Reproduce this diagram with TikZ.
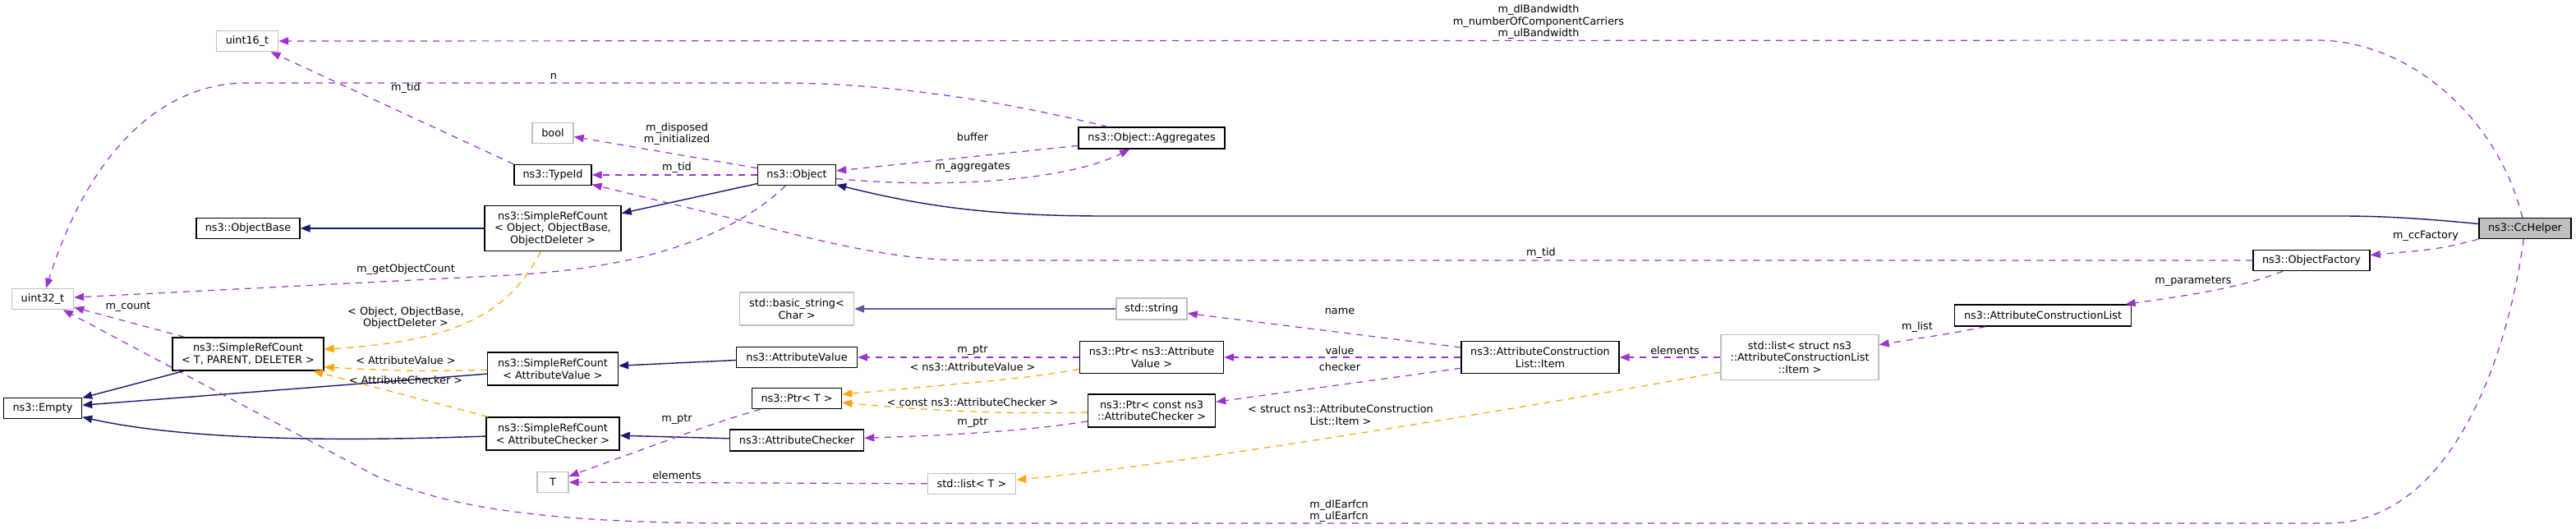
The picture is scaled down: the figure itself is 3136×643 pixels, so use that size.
\documentclass[tikz,border=0pt]{standalone}
\usepackage{fontspec}
\setmainfont{DejaVu Sans}
\usetikzlibrary{arrows.meta,calc}
\definecolor{edgepurple}{HTML}{9A32CD}
\definecolor{navyblue}{HTML}{191970}
\definecolor{tplorange}{HTML}{FFA500}
\definecolor{graybd}{HTML}{BFBFBF}
\definecolor{lightnavy}{HTML}{5B5B9E}
\begin{document}
\begin{tikzpicture}[x=0.5pt,y=-0.5pt,
  every node/.style={font=\fontsize{6.4}{7.25}\selectfont},
  sz/.style 2 args={minimum width=#1*0.5pt, minimum height=#2*0.5pt},
  cls/.style={draw=black, fill=white, line width=0.7pt, inner sep=0pt, align=center},
  ext/.style={cls, draw=graybd},
  lbl/.style={inner sep=0pt, align=center},
  tip/.style={-{Triangle[length=6pt,width=4.6pt]}},
  member/.style={draw=edgepurple, line width=0.6pt, dash pattern=on 4pt off 3.5pt, tip},
  tmpl/.style={draw=tplorange, line width=0.6pt, dash pattern=on 4pt off 3.5pt, tip},
  inherit/.style={draw=navyblue, line width=0.7pt, tip},
  inheritlight/.style={draw=lightnavy, line width=0.9pt, tip}]
\useasboundingbox (0,0) rectangle (3136,643);

% nodes
\node[ext, sz={75}{25}] (uint16) at (301,50) {uint16\_t};
\node[ext, sz={50}{25}] (bool) at (673,162) {bool};
\node[cls, sz={94}{25}] (typeid) at (673,213) {ns3::TypeId};
\node[cls, sz={126}{25}] (objbase) at (302,278) {ns3::ObjectBase};
\node[cls, sz={166}{55}] (srcobj) at (673,278) {ns3::SimpleRefCount\\< Object, ObjectBase,\\ObjectDeleter >};
\node[ext, sz={75}{25}] (uint32) at (52,364) {uint32\_t};
\node[cls, sz={184}{40}] (srctpd) at (302,431) {ns3::SimpleRefCount\\< T, PARENT, DELETER >};
\node[cls, sz={95}{25}] (empty) at (52,497) {ns3::Empty};
\node[cls, sz={159}{40}] (srcav) at (673,449) {ns3::SimpleRefCount\\< AttributeValue >};
\node[cls, sz={162}{40}] (srcac) at (673,528) {ns3::SimpleRefCount\\< AttributeChecker >};
\node[ext, sz={38}{25}] (T) at (673,587) {T};
\node[cls, sz={95}{25}] (object) at (970,213) {ns3::Object};
\node[cls, sz={178}{26}] (aggr) at (1402,168) {ns3::Object::Aggregates};
\node[ext, sz={139}{40}] (basicstr) at (970,376) {std::basic\_string<\\Char >};
\node[ext, sz={86}{26}] (stdstr) at (1402,376) {std::string};
\node[cls, sz={147}{25}] (attrval) at (970,435) {ns3::AttributeValue};
\node[cls, sz={175}{39}] (ptrav) at (1402,435) {ns3::Ptr< ns3::Attribute\\Value >};
\node[cls, sz={109}{25}] (ptrT) at (970,485) {ns3::Ptr< T >};
\node[cls, sz={155}{40}] (ptrac) at (1402,500) {ns3::Ptr< const ns3\\::AttributeChecker >};
\node[cls, sz={163}{26}] (attrchk) at (970,536) {ns3::AttributeChecker};
\node[ext, sz={107}{25}] (listT) at (1183,589) {std::list< T >};
\node[cls, sz={192}{39}] (item) at (1875,435) {ns3::AttributeConstruction\\List::Item};
\node[ext, sz={192}{55}] (liststruct) at (2191,435) {std::list< struct ns3\\::AttributeConstructionList\\::Item >};
\node[cls, fill=graybd, sz={112}{25}] (cchelper) at (3074,278) {ns3::CcHelper};
\node[cls, sz={142}{25}] (objfactory) at (2814,317) {ns3::ObjectFactory};
\node[cls, sz={215}{26}] (acl) at (2487,384) {ns3::AttributeConstructionList};

% inheritance
\draw[inherit] (cchelper) .. controls (2950,266) and (2900,263) .. (2851,263) -- (1346,263) .. controls (1200,263) and (1120,250) .. (object);
\draw[inherit] (object) -- (srcobj);
\draw[inherit] (srcobj) -- (objbase);
\draw[inherit] (attrval) -- (srcav);
\draw[inherit] (attrchk) -- (srcac);
\draw[inherit] (srcav) -- (empty);
\draw[inherit] (srcac) .. controls (350,540) and (200,530) .. (empty);
\draw[inherit] (srctpd) -- (empty);
\draw[inheritlight] (stdstr) -- (basicstr);

% members
\draw[member] (cchelper) .. controls (3040,140) and (2930,49) .. (2821,49) -- (uint16);
\draw[member] (cchelper) .. controls (3055,420) and (2990,637) .. (2833,637) -- (900,637) .. controls (650,637) and (540,615) .. (459,580) -- (uint32);
\draw[member] (cchelper.south west) .. controls (2970,303) .. (objfactory);
\draw[member] (objfactory) -- (1180,317) .. controls (1100,317) and (1020,300) .. (900,268) -- (typeid);
\draw[member] (objfactory) .. controls (2740,345) and (2700,355) .. (acl);
\draw[member] (acl) .. controls (2380,405) .. (liststruct);
\draw[member] (liststruct) -- (item);
\draw[member] (item) -- (stdstr);
\draw[member] (item) -- (ptrav);
\draw[member] (item) -- (ptrac);
\draw[member] (ptrav) -- (attrval);
\draw[member] (ptrac) .. controls (1250,525) and (1150,530) .. (attrchk);
\draw[member] (ptrT) .. controls (870,515) .. (T);
\draw[member] (listT) -- (T);
\draw[member] (srctpd) -- (uint32);
\draw[member] (object) -- (typeid);
\draw[member] (object) -- (bool);
\draw[member] (object) .. controls (1150,230) and (1300,220) .. (aggr);
\draw[member] (aggr) -- (object);
\draw[member] ($(aggr.north west)+(36,0)$) .. controls (1250,130) and (1100,101) .. (950,101) -- (300,101) .. controls (200,101) and (110,180) .. (uint32);
\draw[member] (typeid.north west) -- (uint16);
\draw[member] (object) .. controls (900,280) and (800,325) .. (620,335) -- (uint32);

% templates
\draw[tmpl] (liststruct) .. controls (1950,480) and (1450,565) .. (listT);
\draw[tmpl] (ptrav) .. controls (1250,460) .. (ptrT);
\draw[tmpl] (ptrac) .. controls (1200,505) and (1100,497) .. (ptrT);
\draw[tmpl] (srcav) .. controls (500,452) .. ($(srctpd.east)+(0,16)$);
\draw[tmpl] (srcac) -- (srctpd);
\draw[tmpl] (srcobj) .. controls (620,380) and (560,415) .. (srctpd);

% labels
\node[lbl] (l_bw) at (1873,27) {m\_dlBandwidth\\m\_numberOfComponentCarriers\\m\_ulBandwidth};
\node[lbl] (l_earfcn) at (1630,622) {m\_dlEarfcn\\m\_ulEarfcn};
\node[lbl] (l_ccf) at (2953,287) {m\_ccFactory};
\node[lbl] (l_tid2) at (1876,308) {m\_tid};
\node[lbl] (l_par) at (2670,343) {m\_parameters};
\node[lbl] (l_list) at (2334,398) {m\_list};
\node[lbl] (l_el1) at (2039,427) {elements};
\node[lbl] (l_sitem) at (1632,505) {< struct ns3::AttributeConstruction\\List::Item >};
\node[lbl] (l_name) at (1631,379) {name};
\node[lbl] (l_value) at (1631,427) {value};
\node[lbl] (l_checker) at (1631,447) {checker};
\node[lbl] (l_mptr1) at (1184,427) {m\_ptr};
\node[lbl] (l_tav) at (1184,447) {< ns3::AttributeValue >};
\node[lbl] (l_tac) at (1184,490) {< const ns3::AttributeChecker >};
\node[lbl] (l_mptr2) at (1184,515) {m\_ptr};
\node[lbl] (l_mptr3) at (824,511) {m\_ptr};
\node[lbl] (l_el2) at (824,579) {elements};
\node[lbl] (l_count) at (156,374) {m\_count};
\node[lbl] (l_tav2) at (494,439) {< AttributeValue >};
\node[lbl] (l_tac2) at (494,463) {< AttributeChecker >};
\node[lbl] (l_tobj) at (494,387) {< Object, ObjectBase,\\ObjectDeleter >};
\node[lbl] (l_tid1) at (824,204) {m\_tid};
\node[lbl] (l_disp) at (824,163) {m\_disposed\\m\_initialized};
\node[lbl] (l_aggr) at (1184,204) {m\_aggregates};
\node[lbl] (l_buf) at (1184,167) {buffer};
\node[lbl] (l_n) at (674,93) {n};
\node[lbl] (l_tid0) at (494,107) {m\_tid};
\node[lbl] (l_goc) at (494,328) {m\_getObjectCount};
\end{tikzpicture}
\end{document}
